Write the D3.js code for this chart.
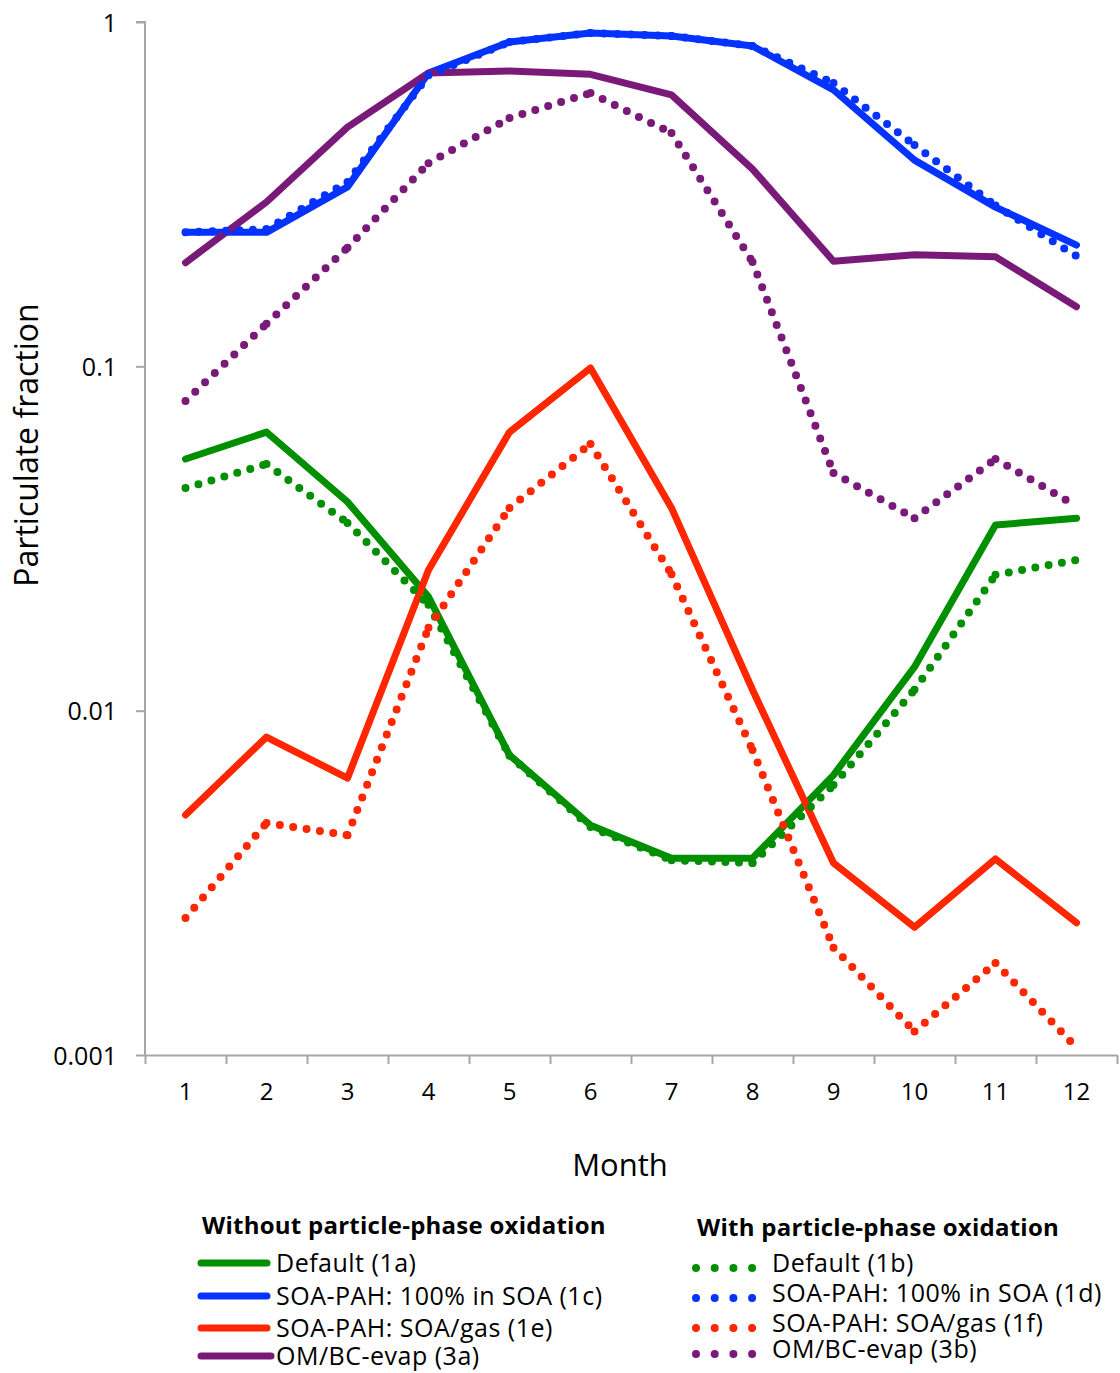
<!DOCTYPE html>
<html>
<head>
<meta charset="utf-8">
<script src="https://cdn.jsdelivr.net/npm/d3@7"></script>
<style>
  body { margin: 0; background: #fff; }
  text { font-family: "Open Sans", sans-serif; fill: #000; }
</style>
</head>
<body>
<div id="chart"></div>
<script>
// months on the x axis
const months = [1, 2, 3, 4, 5, 6, 7, 8, 9, 10, 11, 12];
const yTicks = [0.001, 0.01, 0.1, 1];

// without particle-phase oxidation (solid)
const default1a = [0.0538, 0.0644, 0.0404, 0.0214, 0.00743, 0.00465, 0.00373, 0.00373, 0.0065, 0.0134, 0.0346, 0.0362];
const soa100_1c = [0.245, 0.245, 0.332, 0.711, 0.875, 0.929, 0.911, 0.852, 0.635, 0.397, 0.29, 0.225];
const soaGas1e  = [0.00498, 0.00838, 0.00637, 0.0256, 0.0644, 0.0989, 0.0388, 0.0115, 0.00361, 0.00235, 0.00371, 0.00242];
const omBc3a    = [0.2, 0.3, 0.495, 0.711, 0.721, 0.705, 0.614, 0.374, 0.202, 0.211, 0.208, 0.149];

// with particle-phase oxidation (dotted)
const default1b = [0.0443, 0.052, 0.0351, 0.0203, 0.0074, 0.00459, 0.00368, 0.00361, 0.00608, 0.0115, 0.0248, 0.0274];
const soa100_1d = [0.245, 0.25, 0.343, 0.70, 0.875, 0.929, 0.911, 0.852, 0.665, 0.439, 0.293, 0.209];
const soaGas1f  = [0.0025, 0.00472, 0.00435, 0.0174, 0.0388, 0.0595, 0.0249, 0.00769, 0.00205, 0.00117, 0.00185, 0.00105];
const omBc3b    = [0.0793, 0.133, 0.221, 0.389, 0.526, 0.622, 0.476, 0.201, 0.049, 0.0362, 0.0538, 0.0393];

const green = "#008f00", blue = "#0433ff", red = "#ff2600", purple = "#7a1a78";

const solidSeries = [
  { name: "Default (1a)", values: default1a, color: green },
  { name: "SOA-PAH: 100% in SOA (1c)", values: soa100_1c, color: blue },
  { name: "SOA-PAH: SOA/gas (1e)", values: soaGas1e, color: red },
  { name: "OM/BC-evap (3a)", values: omBc3a, color: purple }
];
const dottedSeries = [
  { name: "Default (1b)", values: default1b, color: green },
  { name: "SOA-PAH: 100% in SOA (1d)", values: soa100_1d, color: blue },
  { name: "SOA-PAH: SOA/gas (1f)", values: soaGas1f, color: red },
  { name: "OM/BC-evap (3b)", values: omBc3b, color: purple }
];

const svg = d3.select("#chart").append("svg")
    .attr("width", 1120).attr("height", 1373);

const x = d3.scaleBand().domain(months).range([145, 1117]);
const xEdge = d3.scaleLinear().domain([0.5, 12.5]).range([145, 1117]);
const y = d3.scaleLog().domain([0.001, 1]).range([1055, 22]);

const axisColor = "#a6a6a6";

// y axis
const yAxis = svg.append("g")
    .attr("transform", "translate(145,0)")
    .call(d3.axisLeft(y).tickValues(yTicks).tickFormat(d => String(d)).tickSize(9).tickPadding(19));
yAxis.select(".domain").attr("stroke", axisColor).attr("stroke-width", 2)
    .attr("d", "M-9,22H0V1055");
yAxis.selectAll(".tick line").attr("stroke", axisColor).attr("stroke-width", 2);
yAxis.selectAll(".tick text").style("font-size", "25px").attr("dy", "0.36em");

// x axis: ticks between months
const xTickAxis = svg.append("g")
    .attr("transform", "translate(0,1055)")
    .call(d3.axisBottom(xEdge).tickValues(d3.range(0.5, 13, 1)).tickFormat("").tickSize(9).tickSizeOuter(0));
xTickAxis.select(".domain").attr("stroke", axisColor).attr("stroke-width", 2);
xTickAxis.selectAll(".tick line").attr("stroke", axisColor).attr("stroke-width", 2);

const xLabelAxis = svg.append("g")
    .attr("transform", "translate(0,1055)")
    .call(d3.axisBottom(x).tickSize(0).tickPadding(28));
xLabelAxis.select(".domain").remove();
xLabelAxis.selectAll(".tick text").style("font-size", "24px");

// axis titles
svg.append("text")
    .attr("transform", "translate(38,445) rotate(-90)")
    .attr("text-anchor", "middle")
    .style("font-size", "32px")
    .text("Particulate fraction");
svg.append("text")
    .attr("x", 620).attr("y", 1176)
    .attr("text-anchor", "middle")
    .style("font-size", "31px")
    .text("Month");

const line = d3.line()
    .x((d, i) => x.bandwidth() / 2 + x(months[i]))
    .y(d => y(d));

// solid series
solidSeries.forEach(s => {
  svg.append("path")
      .datum(s.values)
      .attr("d", line)
      .attr("fill", "none")
      .attr("stroke", s.color)
      .attr("stroke-width", 7)
      .attr("stroke-linejoin", "round")
      .attr("stroke-linecap", "round");
});

// dotted series, each segment dotted on its own
dottedSeries.forEach(s => {
  const pts = s.values.map((v, i) => [x(months[i]) + x.bandwidth() / 2, y(v)]);
  const g = svg.append("g");
  for (let i = 0; i < pts.length - 1; i++) {
    g.append("path")
        .attr("d", d3.line()([pts[i], pts[i + 1]]))
        .attr("fill", "none")
        .attr("stroke", s.color)
        .attr("stroke-width", 8)
        .attr("stroke-linecap", "round")
        .attr("stroke-dasharray", "0 13.5");
  }
});

// legend
const legLeft = svg.append("g");
legLeft.append("text")
    .attr("x", 202).attr("y", 1234)
    .style("font-size", "24px").style("font-weight", "bold").style("letter-spacing", "0.25px")
    .text("Without particle-phase oxidation");
const leftRows = [1263, 1296, 1328, 1356];
solidSeries.forEach((s, i) => {
  legLeft.append("line")
      .attr("x1", 201).attr("x2", i === 3 ? 271 : 267)
      .attr("y1", leftRows[i]).attr("y2", leftRows[i])
      .attr("stroke", s.color).attr("stroke-width", 7).attr("stroke-linecap", "round");
  legLeft.append("text")
      .attr("x", 276).attr("y", leftRows[i] + 9)
      .style("font-size", "25px").style("letter-spacing", "0.5px")
      .text(s.name);
});

const legRight = svg.append("g");
legRight.append("text")
    .attr("x", 697).attr("y", 1236)
    .style("font-size", "24px").style("font-weight", "bold").style("letter-spacing", "0.25px")
    .text("With particle-phase oxidation");
const rightRows = [1268, 1298, 1328, 1354];
dottedSeries.forEach((s, i) => {
  legRight.append("line")
      .attr("x1", 696).attr("x2", 756)
      .attr("y1", rightRows[i]).attr("y2", rightRows[i])
      .attr("stroke", s.color).attr("stroke-width", 8)
      .attr("stroke-linecap", "round").attr("stroke-dasharray", "0 18.7");
  legRight.append("text")
      .attr("x", 772).attr("y", rightRows[i] + 4)
      .style("font-size", "25px").style("letter-spacing", "0.5px")
      .text(s.name);
});
</script>
</body>
</html>
